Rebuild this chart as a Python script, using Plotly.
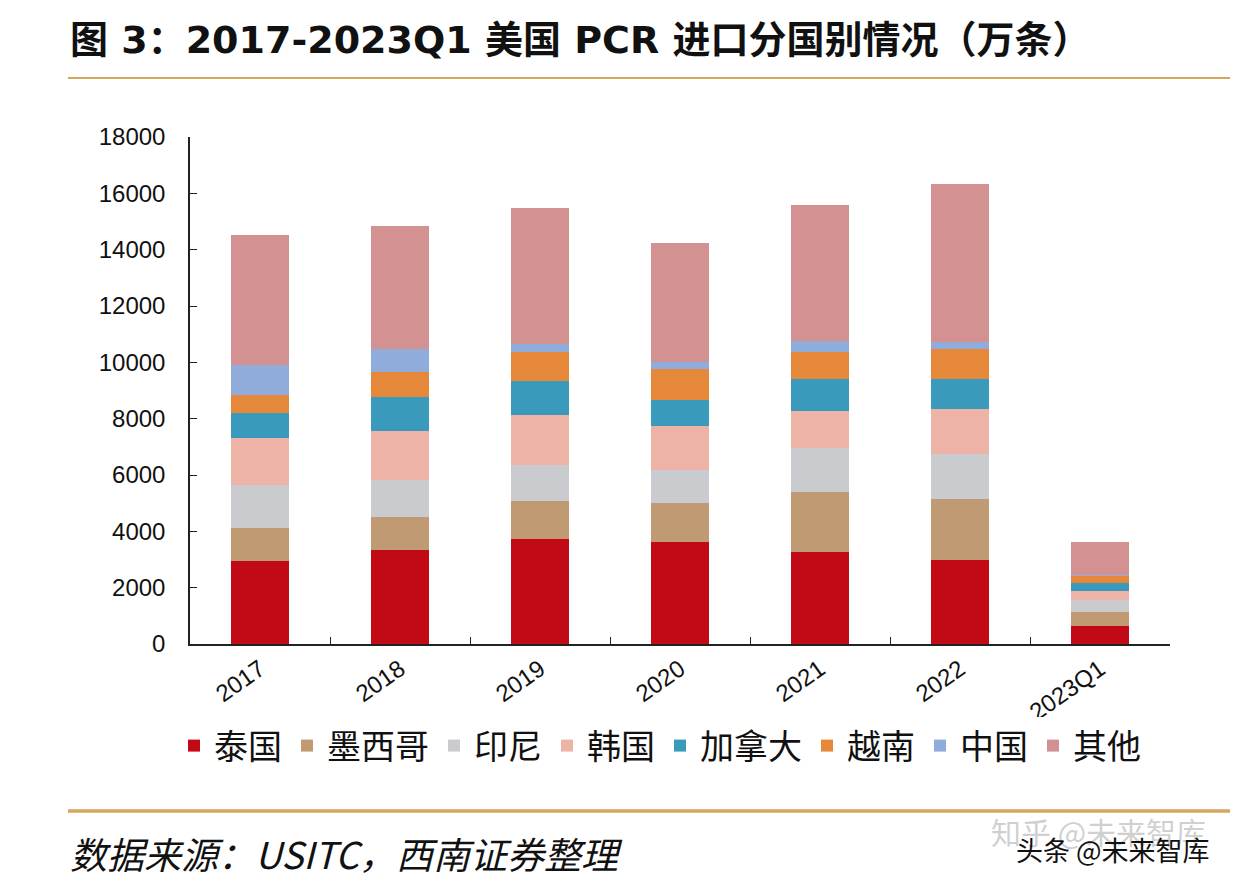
import plotly.graph_objects as go

categories = ["2017", "2018", "2019", "2020", "2021", "2022", "2023Q1"]
series_names = ["泰国", "墨西哥", "印尼", "韩国", "加拿大", "越南", "中国", "其他"]
thailand = [2950, 3340, 3730, 3610, 3260, 2980, 640]
mexico = [1180, 1180, 1360, 1385, 2130, 2170, 510]
indonesia = [1515, 1300, 1270, 1185, 1560, 1600, 415]
korea = [1660, 1740, 1770, 1575, 1340, 1600, 330]
canada = [890, 1220, 1210, 910, 1110, 1060, 285]
vietnam = [650, 865, 1040, 1090, 980, 1050, 235]
china = [1065, 830, 270, 270, 360, 270, 30]
other = [4615, 4370, 4820, 4200, 4850, 5600, 1180]
colors = ["#C10A16", "#BF9A72", "#C9CBCE", "#EDB3A6", "#3A9ABB", "#E5883A", "#90ACDB", "#D39192"]

values = [thailand, mexico, indonesia, korea, canada, vietnam, china, other]

fig = go.Figure()
for name, vals, col in zip(series_names, values, colors):
    fig.add_trace(go.Bar(x=categories, y=vals, name=name, marker=dict(color=col, line=dict(width=0))))

OFF = 8  # browser body margin
W, H = 1238 - OFF, 890 - OFF
# screen-pixel plot area
SX0, SX1, SY0, SY1 = 190, 1170, 137, 644
L = SX0 - OFF
R = W - (SX1 - OFF)
T = SY0 - OFF
B = H - (SY1 - OFF)
pw = SX1 - SX0
ph = SY1 - SY0

def px(x):
    return (x - SX0) / pw

def py(y):
    return (SY1 - y) / ph

gold = "#D7A65E"
fig.update_layout(
    width=W, height=H,
    barmode="stack", bargap=0.585,
    plot_bgcolor="white", paper_bgcolor="white",
    margin=dict(l=L, r=R, t=T, b=B, autoexpand=False),
    font=dict(family="Noto Sans CJK SC, Arial", color="#111"),
    title=dict(text="<b>图 3：2017-2023Q1 美国 PCR 进口分国别情况（万条）</b>",
               x=(70 - OFF) / W, xanchor="left", y=1 - (40 - OFF) / H, yanchor="middle",
               font=dict(size=38, color="#111", family="DejaVu Sans, Noto Sans CJK SC")),
    legend=dict(orientation="h", xref="container", yref="container",
                x=(660 - OFF) / W, xanchor="center", y=1 - (746 - OFF) / H, yanchor="middle",
                font=dict(size=34, family="Noto Sans CJK SC"), traceorder="normal",
                itemwidth=30),
    showlegend=True,
    xaxis=dict(showline=True, linecolor="#222", linewidth=1.5, ticks="inside", tickson="boundaries",
               ticklen=7, tickcolor="#222", tickangle=-35,
               tickfont=dict(size=24, family="Arial", color="#111"), range=[-0.5, 6.5]),
    yaxis=dict(range=[0, 18000], dtick=2000, showline=True, linecolor="#222", linewidth=1.5,
               ticks="inside", ticklen=7, tickcolor="#222", showgrid=False, zeroline=False,
               ticklabelstandoff=18,
               tickfont=dict(size=24, family="Arial", color="#111"), tickformat="d"),
    shapes=[
        dict(type="line", xref="paper", yref="paper", x0=px(68), x1=px(1238), y0=py(78), y1=py(78),
             line=dict(color=gold, width=2)),
        dict(type="line", xref="paper", yref="paper", x0=px(68), x1=px(1232), y0=py(811), y1=py(811),
             line=dict(color=gold, width=3.5)),
    ],
    annotations=[
        dict(text="<i>数据来源：USITC，西南证券整理</i>", xref="paper", yref="paper",
             x=px(68), y=py(853), xanchor="left", yanchor="middle", showarrow=False,
             font=dict(size=37, color="#111", family="Noto Sans CJK SC")),
        dict(text="知乎 @未来智库", xref="paper", yref="paper",
             x=px(1208), y=py(831), xanchor="right", yanchor="middle", showarrow=False,
             font=dict(size=30, color="rgba(200,200,200,0.85)", family="Noto Sans CJK SC")),
        dict(text="头条 @未来智库", xref="paper", yref="paper",
             x=px(1212), y=py(849), xanchor="right", yanchor="middle", showarrow=False,
             font=dict(size=27, color="#111", family="Noto Sans CJK SC")),
    ],
)

fig.write_html("out.html")
